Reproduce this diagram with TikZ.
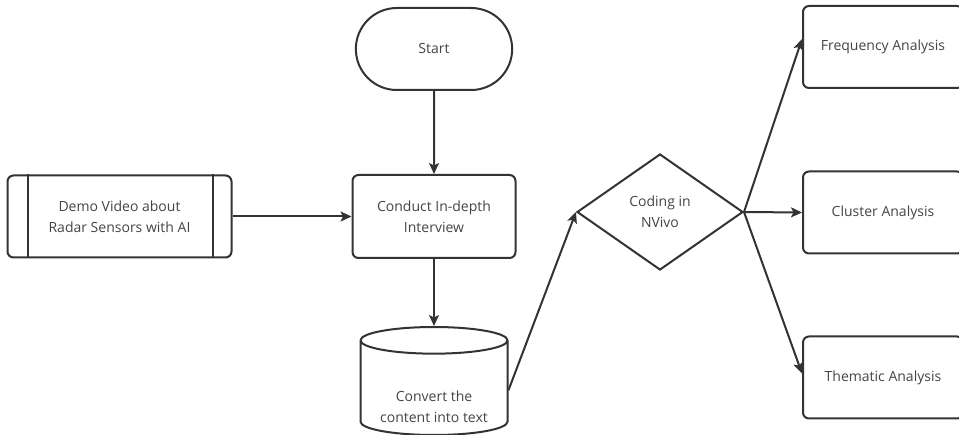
\documentclass[tikz,border=0pt]{standalone}
\usepackage{fontspec}
\setmainfont{Open Sans}
\usepackage{tikz}
\usetikzlibrary{positioning, shapes.geometric, shapes.misc, arrows.meta}
\definecolor{lncol}{HTML}{333333}
\definecolor{txtcol}{HTML}{444444}

\begin{document}
\begin{tikzpicture}[
            x=1pt, y=-1pt, % pixel units, y going down
            every node/.style={font=\fontsize{14}{21}\selectfont, text=txtcol},
            block/.style={rectangle, draw=lncol, line width=2pt, rounded corners=6pt, minimum width=163pt, minimum height=83pt, align=center},
            terminal/.style={rounded rectangle, draw=lncol, line width=2pt, minimum width=163pt, minimum height=82pt},
            decision/.style={diamond, draw=lncol, line width=2pt, aspect=1.43, minimum width=166pt, minimum height=116pt, align=center, inner sep=0pt},
            storage/.style={cylinder, shape border rotate=90, draw=lncol, line width=2pt, aspect=4, minimum width=147pt, minimum height=108pt},
            result/.style={block, minimum width=160pt, minimum height=82pt},
            arrow/.style={draw=lncol, line width=2pt, -{Stealth[length=11pt, width=10pt, inset=2.5pt]}}
        ]
        \useasboundingbox (0,0) rectangle (959,435);

        % Nodes
        \node[block] (interview) at (434,216.5) {Conduct In-depth\\Interview};
        \node[terminal, above=83pt of interview] (start) {Start};
        \node[block, minimum width=224pt, minimum height=82pt, left=119pt of interview] (demo) {Demo Video about\\Radar Sensors with AI};
        \node[storage, below=67pt of interview,
              label={[yshift=-17pt, align=center]center:Convert the\\content into text}] (convert) {};
        \node[decision] (coding) at (660,212) {Coding in\\NVivo};
        \node[result] (freq) at (883,47) {Frequency Analysis};
        \node[result] (cluster) at (883,212.5) {Cluster Analysis};
        \node[result] (thematic) at (883,377.5) {Thematic Analysis};

        % side bars of the demo box
        \draw[lncol, line width=2pt] ([xshift=21pt]demo.north west) -- ([xshift=21pt]demo.south west);
        \draw[lncol, line width=2pt] ([xshift=-20pt]demo.north east) -- ([xshift=-20pt]demo.south east);

        % Connections
        \draw[arrow] (start) -- (interview);
        \draw[arrow] (demo) -- (interview);
        \draw[arrow] (interview) -- (convert);
        \draw[arrow] (convert.east) -- (coding.west);
        \draw[arrow] (coding.east) -- ([yshift=8pt]freq.west);
        \draw[arrow] (coding.east) -- (cluster.west);
        \draw[arrow] (coding.east) -- ([yshift=4pt]thematic.west);

        \end{tikzpicture}
\end{document}
